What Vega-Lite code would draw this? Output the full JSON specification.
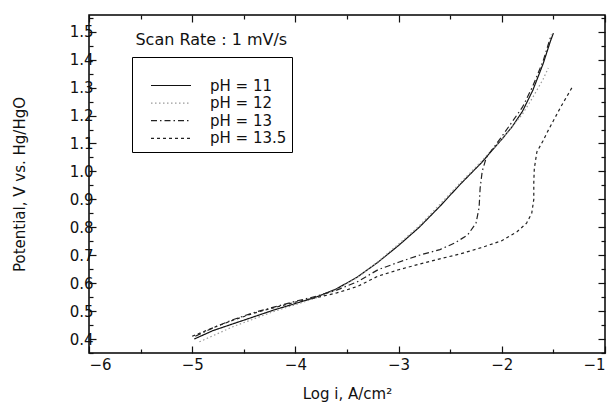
{
  "$schema": "https://vega.github.io/schema/vega-lite/v6.json",
  "width": 516,
  "height": 338,
  "autosize": "none",
  "padding": {"left": 89, "top": 15, "right": 7, "bottom": 54},
  "background": "white",
  "config": {
    "view": {"stroke": "black", "strokeWidth": 1.5},
    "font": "DejaVu Sans",
    "axis": {
      "domain": false,
      "grid": false,
      "labelFont": "DejaVu Sans",
      "labelFontSize": 15,
      "labelColor": "#111",
      "titleFont": "DejaVu Sans",
      "titleFontSize": 15,
      "titleFontWeight": "normal",
      "titleColor": "#111",
      "tickColor": "#111",
      "tickWidth": 1.2
    },
    "legend": {
      "orient": "none",
      "legendX": 43,
      "legendY": 42,
      "titleFontSize": 11,
      "titlePadding": 4,
      "padding": 5,
      "strokeColor": "black",
      "fillColor": "white",
      "symbolType": "stroke",
      "symbolSize": 1600,
      "symbolStrokeWidth": 1.2,
      "symbolOffset": 13,
      "labelFont": "DejaVu Sans",
      "labelFontSize": 15,
      "labelColor": "#111",
      "labelOffset": 18,
      "clipHeight": 17,
      "rowPadding": 0.6
    }
  },
  "datasets": {
    "curves": [
      {"ph": "pH = 11", "i": 1, "x": -4.98, "y": 0.40},
      {"ph": "pH = 11", "i": 2, "x": -4.8, "y": 0.43},
      {"ph": "pH = 11", "i": 3, "x": -4.6, "y": 0.455},
      {"ph": "pH = 11", "i": 4, "x": -4.4, "y": 0.48},
      {"ph": "pH = 11", "i": 5, "x": -4.2, "y": 0.505},
      {"ph": "pH = 11", "i": 6, "x": -4.0, "y": 0.527},
      {"ph": "pH = 11", "i": 7, "x": -3.8, "y": 0.55},
      {"ph": "pH = 11", "i": 8, "x": -3.6, "y": 0.58},
      {"ph": "pH = 11", "i": 9, "x": -3.4, "y": 0.622},
      {"ph": "pH = 11", "i": 10, "x": -3.2, "y": 0.675},
      {"ph": "pH = 11", "i": 11, "x": -3.0, "y": 0.735},
      {"ph": "pH = 11", "i": 12, "x": -2.8, "y": 0.80},
      {"ph": "pH = 11", "i": 13, "x": -2.6, "y": 0.875},
      {"ph": "pH = 11", "i": 14, "x": -2.4, "y": 0.955},
      {"ph": "pH = 11", "i": 15, "x": -2.2, "y": 1.03},
      {"ph": "pH = 11", "i": 16, "x": -2.0, "y": 1.115},
      {"ph": "pH = 11", "i": 17, "x": -1.9, "y": 1.16},
      {"ph": "pH = 11", "i": 18, "x": -1.8, "y": 1.215},
      {"ph": "pH = 11", "i": 19, "x": -1.7, "y": 1.29},
      {"ph": "pH = 11", "i": 20, "x": -1.6, "y": 1.385},
      {"ph": "pH = 11", "i": 21, "x": -1.53, "y": 1.465},
      {"ph": "pH = 11", "i": 22, "x": -1.5, "y": 1.495},

      {"ph": "pH = 12", "i": 1, "x": -4.93, "y": 0.39},
      {"ph": "pH = 12", "i": 2, "x": -4.6, "y": 0.445},
      {"ph": "pH = 12", "i": 3, "x": -4.2, "y": 0.50},
      {"ph": "pH = 12", "i": 4, "x": -4.0, "y": 0.523},
      {"ph": "pH = 12", "i": 5, "x": -3.8, "y": 0.547},
      {"ph": "pH = 12", "i": 6, "x": -3.6, "y": 0.577},
      {"ph": "pH = 12", "i": 7, "x": -3.4, "y": 0.62},
      {"ph": "pH = 12", "i": 8, "x": -3.2, "y": 0.677},
      {"ph": "pH = 12", "i": 9, "x": -3.0, "y": 0.74},
      {"ph": "pH = 12", "i": 10, "x": -2.8, "y": 0.805},
      {"ph": "pH = 12", "i": 11, "x": -2.6, "y": 0.882},
      {"ph": "pH = 12", "i": 12, "x": -2.4, "y": 0.96},
      {"ph": "pH = 12", "i": 13, "x": -2.2, "y": 1.035},
      {"ph": "pH = 12", "i": 14, "x": -2.0, "y": 1.115},
      {"ph": "pH = 12", "i": 15, "x": -1.8, "y": 1.205},
      {"ph": "pH = 12", "i": 16, "x": -1.7, "y": 1.265},
      {"ph": "pH = 12", "i": 17, "x": -1.6, "y": 1.33},
      {"ph": "pH = 12", "i": 18, "x": -1.55, "y": 1.37},

      {"ph": "pH = 13", "i": 1, "x": -4.97, "y": 0.41},
      {"ph": "pH = 13", "i": 2, "x": -4.8, "y": 0.44},
      {"ph": "pH = 13", "i": 3, "x": -4.6, "y": 0.47},
      {"ph": "pH = 13", "i": 4, "x": -4.4, "y": 0.495},
      {"ph": "pH = 13", "i": 5, "x": -4.2, "y": 0.515},
      {"ph": "pH = 13", "i": 6, "x": -4.0, "y": 0.535},
      {"ph": "pH = 13", "i": 7, "x": -3.8, "y": 0.553},
      {"ph": "pH = 13", "i": 8, "x": -3.6, "y": 0.575},
      {"ph": "pH = 13", "i": 9, "x": -3.4, "y": 0.605},
      {"ph": "pH = 13", "i": 10, "x": -3.2, "y": 0.648},
      {"ph": "pH = 13", "i": 11, "x": -3.0, "y": 0.675},
      {"ph": "pH = 13", "i": 12, "x": -2.8, "y": 0.70},
      {"ph": "pH = 13", "i": 13, "x": -2.6, "y": 0.72},
      {"ph": "pH = 13", "i": 14, "x": -2.45, "y": 0.745},
      {"ph": "pH = 13", "i": 15, "x": -2.33, "y": 0.773},
      {"ph": "pH = 13", "i": 16, "x": -2.25, "y": 0.815},
      {"ph": "pH = 13", "i": 17, "x": -2.22, "y": 0.87},
      {"ph": "pH = 13", "i": 18, "x": -2.21, "y": 0.94},
      {"ph": "pH = 13", "i": 19, "x": -2.19, "y": 1.00},
      {"ph": "pH = 13", "i": 20, "x": -2.15, "y": 1.05},
      {"ph": "pH = 13", "i": 21, "x": -2.0, "y": 1.125},
      {"ph": "pH = 13", "i": 22, "x": -1.8, "y": 1.23},
      {"ph": "pH = 13", "i": 23, "x": -1.7, "y": 1.305},
      {"ph": "pH = 13", "i": 24, "x": -1.6, "y": 1.395},
      {"ph": "pH = 13", "i": 25, "x": -1.52, "y": 1.49},

      {"ph": "pH = 13.5", "i": 1, "x": -5.0, "y": 0.41},
      {"ph": "pH = 13.5", "i": 2, "x": -4.8, "y": 0.44},
      {"ph": "pH = 13.5", "i": 3, "x": -4.6, "y": 0.468},
      {"ph": "pH = 13.5", "i": 4, "x": -4.4, "y": 0.493},
      {"ph": "pH = 13.5", "i": 5, "x": -4.2, "y": 0.513},
      {"ph": "pH = 13.5", "i": 6, "x": -4.0, "y": 0.532},
      {"ph": "pH = 13.5", "i": 7, "x": -3.8, "y": 0.548},
      {"ph": "pH = 13.5", "i": 8, "x": -3.6, "y": 0.565},
      {"ph": "pH = 13.5", "i": 9, "x": -3.4, "y": 0.588},
      {"ph": "pH = 13.5", "i": 10, "x": -3.2, "y": 0.625},
      {"ph": "pH = 13.5", "i": 11, "x": -3.0, "y": 0.648},
      {"ph": "pH = 13.5", "i": 12, "x": -2.8, "y": 0.668},
      {"ph": "pH = 13.5", "i": 13, "x": -2.6, "y": 0.687},
      {"ph": "pH = 13.5", "i": 14, "x": -2.4, "y": 0.705},
      {"ph": "pH = 13.5", "i": 15, "x": -2.2, "y": 0.727},
      {"ph": "pH = 13.5", "i": 16, "x": -2.0, "y": 0.752},
      {"ph": "pH = 13.5", "i": 17, "x": -1.85, "y": 0.785},
      {"ph": "pH = 13.5", "i": 18, "x": -1.76, "y": 0.815},
      {"ph": "pH = 13.5", "i": 19, "x": -1.71, "y": 0.85},
      {"ph": "pH = 13.5", "i": 20, "x": -1.69, "y": 0.90},
      {"ph": "pH = 13.5", "i": 21, "x": -1.69, "y": 0.96},
      {"ph": "pH = 13.5", "i": 22, "x": -1.685, "y": 1.01},
      {"ph": "pH = 13.5", "i": 23, "x": -1.66, "y": 1.07},
      {"ph": "pH = 13.5", "i": 24, "x": -1.6, "y": 1.11},
      {"ph": "pH = 13.5", "i": 25, "x": -1.56, "y": 1.14},
      {"ph": "pH = 13.5", "i": 26, "x": -1.43, "y": 1.23},
      {"ph": "pH = 13.5", "i": 27, "x": -1.32, "y": 1.30}
    ],
    "note": [
      {"x": -5.55, "y": 1.472, "label": "Scan Rate : 1 mV/s"}
    ]
  },
  "layer": [
    {
      "data": {"name": "curves"},
      "mark": {"type": "line", "strokeWidth": 1.2, "clip": true},
      "encoding": {
        "x": {
          "field": "x", "type": "quantitative",
          "scale": {"domain": [-6, -1], "nice": false, "zero": false},
          "axis": {
            "orient": "bottom",
            "title": "Log i, A/cm²",
            "titlePadding": 14,
            "values": [-6, -5.5, -5, -4.5, -4, -3.5, -3, -2.5, -2, -1.5, -1],
            "format": ".0f",
            "labelExpr": "datum.value % 1 == 0 ? datum.label : ''",
            "tickSize": {"condition": {"test": "datum.value % 1 == 0", "value": -7}, "value": -4},
            "labelPadding": 11
          }
        },
        "y": {
          "field": "y", "type": "quantitative",
          "scale": {"domain": [0.35, 1.56], "nice": false, "zero": false},
          "axis": {
            "orient": "left",
            "title": "Potential, V vs. Hg/HgO",
            "titlePadding": 42,
            "values": [0.35, 0.4, 0.45, 0.5, 0.55, 0.6, 0.65, 0.7, 0.75, 0.8, 0.85, 0.9, 0.95, 1.0, 1.05, 1.1, 1.15, 1.2, 1.25, 1.3, 1.35, 1.4, 1.45, 1.5, 1.55],
            "format": ".1f",
            "labelExpr": "abs(datum.value*10 - round(datum.value*10)) < 0.01 ? datum.label : ''",
            "tickSize": {"condition": {"test": "abs(datum.value*10 - round(datum.value*10)) < 0.01", "value": -7}, "value": -4},
            "labelPadding": 3
          }
        },
        "order": {"field": "i", "type": "quantitative"},
        "color": {
          "field": "ph", "type": "nominal",
          "scale": {"domain": ["pH = 11", "pH = 12", "pH = 13", "pH = 13.5"], "range": ["#111111", "#9a9a9a", "#222222", "#222222"]},
          "legend": {"title": "\u00a0\u00a0\u00a0\u00a0\u00a0\u00a0\u00a0\u00a0\u00a0\u00a0\u00a0\u00a0\u00a0\u00a0\u00a0\u00a0\u00a0\u00a0\u00a0\u00a0\u00a0\u00a0\u00a0\u00a0\u00a0\u00a0\u00a0\u00a0\u00a0\u00a0\u00a0\u00a0\u00a0\u00a0\u00a0\u00a0\u00a0\u00a0\u00a0\u00a0\u00a0\u00a0\u00a0\u00a0\u00a0\u00a0\u00a0\u00a0\u00a0"}
        },
        "strokeDash": {
          "field": "ph", "type": "nominal",
          "scale": {"domain": ["pH = 11", "pH = 12", "pH = 13", "pH = 13.5"], "range": [[1, 0], [1.5, 2.5], [6, 3, 1.5, 3], [3, 3]]},
          "legend": {"title": "\u00a0\u00a0\u00a0\u00a0\u00a0\u00a0\u00a0\u00a0\u00a0\u00a0\u00a0\u00a0\u00a0\u00a0\u00a0\u00a0\u00a0\u00a0\u00a0\u00a0\u00a0\u00a0\u00a0\u00a0\u00a0\u00a0\u00a0\u00a0\u00a0\u00a0\u00a0\u00a0\u00a0\u00a0\u00a0\u00a0\u00a0\u00a0\u00a0\u00a0\u00a0\u00a0\u00a0\u00a0\u00a0\u00a0\u00a0\u00a0\u00a0"}
        }
      }
    },
    {
      "data": {"name": "note"},
      "mark": {"type": "text", "align": "left", "baseline": "middle", "fontSize": 16, "font": "DejaVu Sans", "color": "#111"},
      "encoding": {
        "x": {
          "field": "x", "type": "quantitative",
          "axis": {
            "orient": "top", "title": null, "labels": false,
            "values": [-6, -5.5, -5, -4.5, -4, -3.5, -3, -2.5, -2, -1.5, -1],
            "tickSize": {"condition": {"test": "datum.value % 1 == 0", "value": -7}, "value": -4}
          }
        },
        "y": {
          "field": "y", "type": "quantitative",
          "axis": {
            "orient": "right", "title": null, "labels": false,
            "values": [0.35, 0.4, 0.45, 0.5, 0.55, 0.6, 0.65, 0.7, 0.75, 0.8, 0.85, 0.9, 0.95, 1.0, 1.05, 1.1, 1.15, 1.2, 1.25, 1.3, 1.35, 1.4, 1.45, 1.5, 1.55],
            "tickSize": {"condition": {"test": "abs(datum.value*10 - round(datum.value*10)) < 0.01", "value": -7}, "value": -4}
          }
        },
        "text": {"field": "label"}
      }
    }
  ],
  "resolve": {"axis": {"x": "independent", "y": "independent"}}
}
